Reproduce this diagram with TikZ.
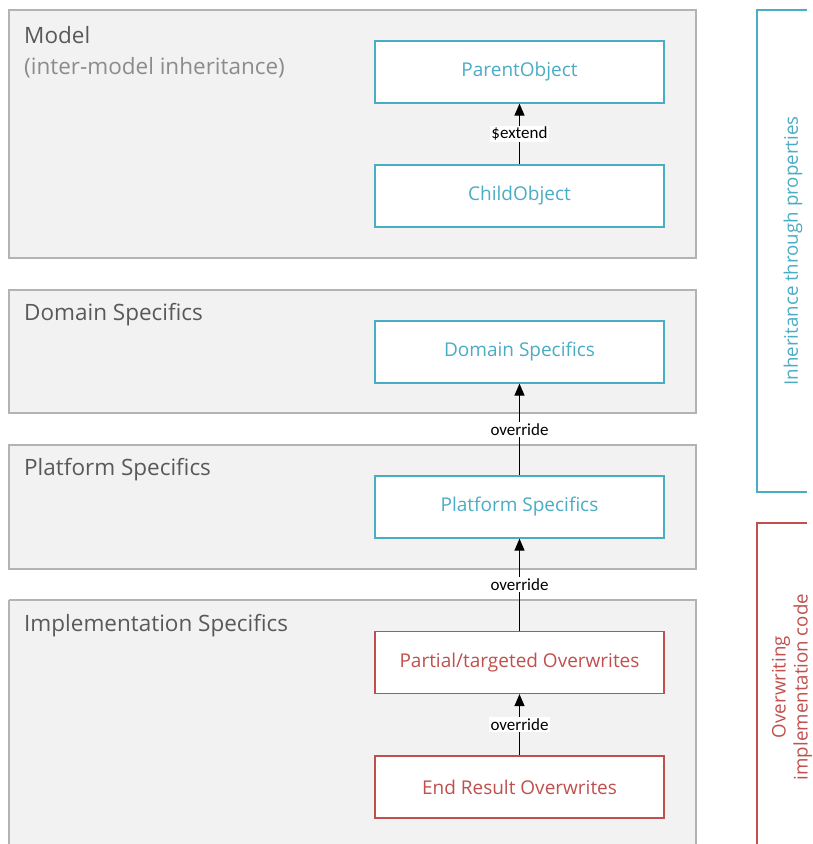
\documentclass[tikz,border=0pt]{standalone}
\usepackage{fontspec}
\setmainfont{Open Sans}
\newfontfamily\labelfont{Carlito}
\usetikzlibrary{arrows.meta,positioning}
\definecolor{groupfill}{HTML}{F2F2F2}
\definecolor{groupline}{HTML}{B3B3B3}
\definecolor{grouptext}{HTML}{595959}
\definecolor{subtext}{HTML}{8C8C8C}
\definecolor{itemblue}{HTML}{4BACC6}
\definecolor{itemred}{HTML}{C0504D}
\tikzset{
  group/.style={draw=groupline, fill=groupfill, line width=1.2pt},
  grouptitle/.style={anchor=west, text=grouptext, inner sep=0pt, font=\fontsize{22.5}{27}\selectfont},
  blueitem/.style={draw=itemblue, fill=white, line width=1.2pt, minimum width=289pt, minimum height=62pt, text=itemblue, font=\fontsize{19}{23}\selectfont},
  reditem/.style={blueitem, draw=itemred, text=itemred},
  link/.style={-{Triangle[length=12pt,width=10pt]}, line width=1.2pt},
  linklabel/.style={fill=white, inner sep=1.5pt, font=\labelfont\fontsize{17}{20}\selectfont},
  sidebar/.style={line width=1.2pt},
  sidetext/.style={rotate=90, align=center, inner sep=0pt, font=\fontsize{18.7}{22}\selectfont}
}

\begin{document}
\begin{tikzpicture}[x=1pt,y=-1pt]
        \useasboundingbox (0,0) rectangle (812,844);
        % Groups
        \draw[group] (9,10) rectangle (696,258);
        \draw[group] (9,290) rectangle (696,413);
        \draw[group] (9,445) rectangle (696,569);
        \draw[group] (9,600) -- (9,844) (9,600) -- (696,600) -- (696,844);
        \fill[groupfill] (9.6,600.6) rectangle (695.4,844);
        % Group titles
        \node[grouptitle] (model) at (24,35) {Model};
        \node[grouptitle, text=subtext] (modelsub) at (24,68) {(inter-model inheritance)};
        \node[grouptitle] (domain) at (24,315) {Domain Specifics};
        \node[grouptitle] (platform) at (24,470) {Platform Specifics};
        \node[grouptitle] (impl) at (24,626) {Implementation Specifics};
        % Items
        \node[blueitem] (parent) at (519.5,72) {ParentObject};
        \node[blueitem] (child) at (519.5,196) {ChildObject};
        \node[blueitem] (domainbox) at (519.5,352) {Domain Specifics};
        \node[blueitem] (platformbox) at (519.5,507) {Platform Specifics};
        \node[reditem] (partial) at (519.5,662.5) {Partial/targeted Overwrites};
        \node[reditem] (endresult) at (519.5,787) {End Result Overwrites};
        % Arrows
        \draw[link] (child) -- node[linklabel] {\$extend} (parent);
        \draw[link] (platformbox) -- node[linklabel] {override} (domainbox);
        \draw[link] (partial) -- node[linklabel] {override} (platformbox);
        \draw[link] (endresult) -- node[linklabel] {override} (partial);
        % Side bars (open to the right)
        \draw[sidebar, draw=itemblue] (807,10) -- (757,10) -- (757,492) -- (807,492);
        \node[sidetext, text=itemblue] (inherit) at (793,251) {Inheritance through properties};
        \draw[sidebar, draw=itemred] (807,523) -- (757,523) -- (757,844);
        \node[sidetext, text=itemred] (overwrite) at (792,687) {Overwriting\\implementation code};
\end{tikzpicture}
\end{document}
